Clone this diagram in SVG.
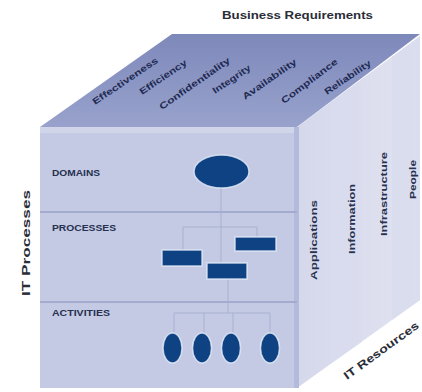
<svg xmlns="http://www.w3.org/2000/svg" width="422" height="392" viewBox="0 0 422 392">
  <defs>
    <style>
      .lbl { font-family: "Liberation Sans", Arial, sans-serif; font-weight: bold; fill: #26304f; }
      .row { font-size: 9px; }
      .top { font-size: 9px; fill: #1f2a52; }
      .side { font-size: 9px; }
      .axis { font-size: 11px; fill: #2a2d38; }
      .shape { fill: #0e4283; stroke: #e4ecfa; stroke-width: 1.5; stroke-opacity: 0.8; }
      .link { fill: none; stroke: #a9b1d0; stroke-width: 1; }
      .divider { stroke: #a3abcf; stroke-width: 2; }
    </style>
    <linearGradient id="topFace" x1="0" y1="0" x2="0" y2="1">
      <stop offset="0" stop-color="#7e89bb"/>
      <stop offset="1" stop-color="#98a2cc"/>
    </linearGradient>
    <linearGradient id="rightFace" x1="0" y1="0" x2="1" y2="0">
      <stop offset="0" stop-color="#d5d8eb"/>
      <stop offset="1" stop-color="#e1e3f1"/>
    </linearGradient>
  </defs>

  <rect width="422" height="392" fill="#ffffff"/>

  <!-- cube faces -->
  <g id="cube">
    <polygon points="172,34 420,34 297,127 40,127" fill="url(#topFace)"/>
    <polygon points="297,127 420,36 420,300 297,388" fill="url(#rightFace)"/>
    <!-- column bands on the resources face -->
    <polygon points="330,103 362,79 362,342 330,364" fill="#d9dcee" opacity="0.6"/>
    <polygon points="392,57 420,36 420,300 392,320" fill="#d6daec" opacity="0.6"/>
    <rect x="40" y="127" width="257" height="261" fill="#c4cae4"/>
    <rect x="40" y="127" width="257" height="6" fill="#d0d5ea"/>
    <rect x="294" y="127" width="5" height="261" fill="#b3bbdc"/>
    <line class="divider" x1="40" y1="212" x2="297" y2="212"/>
    <line class="divider" x1="40" y1="302" x2="297" y2="302"/>
  </g>

  <!-- axis titles -->
  <text class="lbl axis" x="222" y="19" textLength="151" lengthAdjust="spacingAndGlyphs">Business Requirements</text>
  <text class="lbl axis" transform="translate(30,296) rotate(-90)" textLength="106" lengthAdjust="spacingAndGlyphs">IT Processes</text>
  <text class="lbl axis" transform="translate(347,380) rotate(-36)" textLength="90" lengthAdjust="spacingAndGlyphs">IT Resources</text>

  <!-- business requirement labels on the top face -->
  <g id="requirements">
    <text class="lbl top" transform="translate(95,105) rotate(-34)" textLength="77" lengthAdjust="spacingAndGlyphs">Effectiveness</text>
    <text class="lbl top" transform="translate(142,95) rotate(-34)" textLength="55" lengthAdjust="spacingAndGlyphs">Efficiency</text>
    <text class="lbl top" transform="translate(162,110) rotate(-35)" textLength="84" lengthAdjust="spacingAndGlyphs">Confidentiality</text>
    <text class="lbl top" transform="translate(215,94) rotate(-34)" textLength="44" lengthAdjust="spacingAndGlyphs">Integrity</text>
    <text class="lbl top" transform="translate(245,100) rotate(-35)" textLength="64" lengthAdjust="spacingAndGlyphs">Availability</text>
    <text class="lbl top" transform="translate(284,104) rotate(-37)" textLength="68" lengthAdjust="spacingAndGlyphs">Compliance</text>
    <text class="lbl top" transform="translate(327,95) rotate(-34)" textLength="54" lengthAdjust="spacingAndGlyphs">Reliability</text>
  </g>

  <!-- IT resource labels on the right face -->
  <g id="resources">
    <text class="lbl side" transform="translate(317,280) rotate(-90)" textLength="80" lengthAdjust="spacingAndGlyphs">Applications</text>
    <text class="lbl side" transform="translate(355,254) rotate(-90)" textLength="70" lengthAdjust="spacingAndGlyphs">Information</text>
    <text class="lbl side" transform="translate(387,236) rotate(-90)" textLength="84" lengthAdjust="spacingAndGlyphs">Infrastructure</text>
    <text class="lbl side" transform="translate(416,199) rotate(-90)" textLength="39" lengthAdjust="spacingAndGlyphs">People</text>
  </g>

  <!-- row labels -->
  <text class="lbl row" x="52" y="176" textLength="48" lengthAdjust="spacingAndGlyphs">DOMAINS</text>
  <text class="lbl row" x="52" y="231" textLength="64" lengthAdjust="spacingAndGlyphs">PROCESSES</text>
  <text class="lbl row" x="52" y="316" textLength="58" lengthAdjust="spacingAndGlyphs">ACTIVITIES</text>

  <!-- hierarchy connectors -->
  <g id="connectors">
    <path class="link" d="M221,188 V227"/>
    <path class="link" d="M183,227 H257"/>
    <path class="link" d="M183,227 V250"/>
    <path class="link" d="M257,227 V237"/>
    <path class="link" d="M221,227 V263"/>
    <path class="link" d="M228,279 V313"/>
    <path class="link" d="M174,313 H270"/>
    <path class="link" d="M174,313 V333"/>
    <path class="link" d="M204,313 V333"/>
    <path class="link" d="M233,313 V333"/>
    <path class="link" d="M270,313 V333"/>
  </g>

  <!-- hierarchy nodes -->
  <g id="domain">
    <ellipse class="shape" cx="221.5" cy="171.5" rx="27.5" ry="16.5"/>
  </g>
  <g id="process-1">
    <rect class="shape" x="162" y="250" width="40" height="16"/>
  </g>
  <g id="process-2">
    <rect class="shape" x="235" y="237" width="41" height="14"/>
  </g>
  <g id="process-3">
    <rect class="shape" x="207" y="263" width="40" height="16"/>
  </g>
  <g id="activity-1">
    <ellipse class="shape" cx="172.5" cy="348" rx="9.5" ry="15"/>
  </g>
  <g id="activity-2">
    <ellipse class="shape" cx="202" cy="348" rx="9.5" ry="15"/>
  </g>
  <g id="activity-3">
    <ellipse class="shape" cx="231" cy="348" rx="9.5" ry="15"/>
  </g>
  <g id="activity-4">
    <ellipse class="shape" cx="270" cy="348" rx="9.5" ry="15"/>
  </g>
</svg>
